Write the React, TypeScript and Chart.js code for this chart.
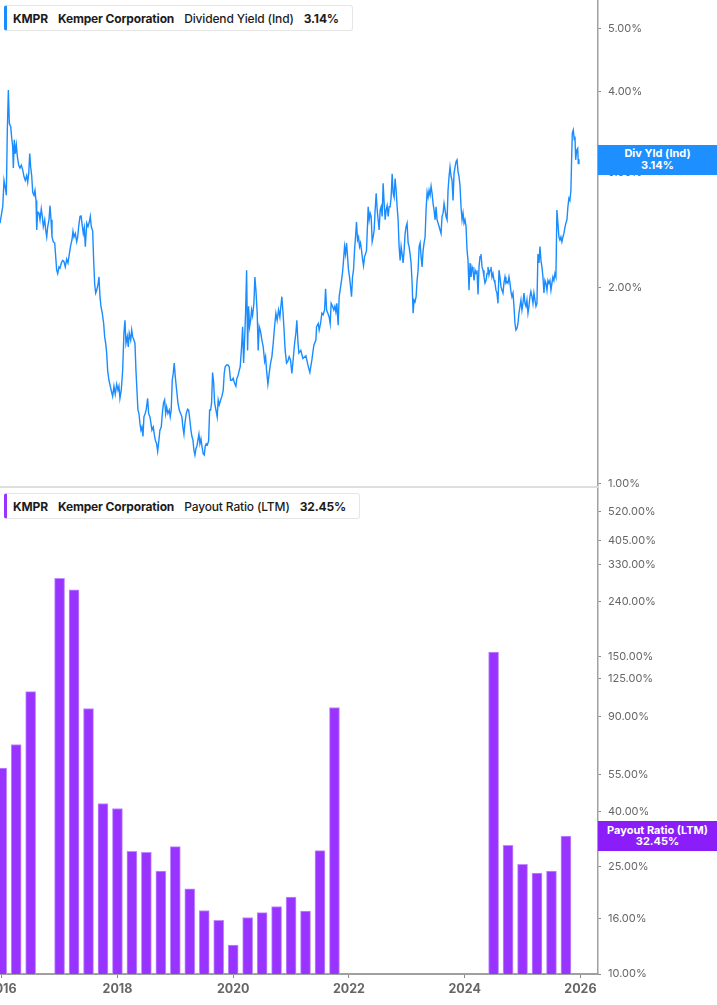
import React, { useEffect, useRef, useState } from "react";
import { Chart, registerables } from "chart.js";

Chart.register(...registerables);

const FONT = "Inter, 'Noto Sans', sans-serif";

// Dividend Yield (Ind), in %, dates as decimal years
const divDates = [
  2015.971, 2016.018, 2016.04, 2016.069, 2016.08, 2016.097, 2016.115, 2016.132, 2016.156, 2016.173,
  2016.19, 2016.201, 2016.218, 2016.235, 2016.253, 2016.27, 2016.294, 2016.316, 2016.339, 2016.363,
  2016.385, 2016.408, 2016.432, 2016.449, 2016.467, 2016.484, 2016.501, 2016.518, 2016.536, 2016.558,
  2016.575, 2016.593, 2016.605, 2016.622, 2016.645, 2016.662, 2016.684, 2016.702, 2016.719, 2016.743,
  2016.76, 2016.778, 2016.795, 2016.817, 2016.835, 2016.852, 2016.869, 2016.892, 2016.916, 2016.933,
  2016.95, 2016.968, 2016.99, 2017.007, 2017.03, 2017.054, 2017.076, 2017.099, 2017.123, 2017.145,
  2017.168, 2017.192, 2017.214, 2017.232, 2017.249, 2017.272, 2017.296, 2017.313, 2017.33, 2017.353,
  2017.37, 2017.387, 2017.41, 2017.427, 2017.445, 2017.469, 2017.491, 2017.514, 2017.531, 2017.548,
  2017.572, 2017.589, 2017.607, 2017.624, 2017.641, 2017.664, 2017.681, 2017.698, 2017.715, 2017.738,
  2017.762, 2017.779, 2017.797, 2017.814, 2017.831, 2017.853, 2017.876, 2017.9, 2017.917, 2017.94,
  2017.962, 2017.987, 2018.009, 2018.026, 2018.043, 2018.066, 2018.09, 2018.112, 2018.13, 2018.147,
  2018.17, 2018.187, 2018.204, 2018.229, 2018.246, 2018.263, 2018.285, 2018.303, 2018.32, 2018.337,
  2018.354, 2018.372, 2018.389, 2018.406, 2018.423, 2018.441, 2018.458, 2018.48, 2018.498, 2018.522,
  2018.539, 2018.562, 2018.579, 2018.596, 2018.619, 2018.636, 2018.653, 2018.677, 2018.695, 2018.717,
  2018.734, 2018.757, 2018.781, 2018.798, 2018.815, 2018.833, 2018.85, 2018.872, 2018.895, 2018.912,
  2018.929, 2018.947, 2018.964, 2018.981, 2018.999, 2019.023, 2019.045, 2019.068, 2019.092, 2019.114,
  2019.131, 2019.149, 2019.166, 2019.189, 2019.213, 2019.23, 2019.252, 2019.27, 2019.287, 2019.304,
  2019.321, 2019.339, 2019.356, 2019.373, 2019.391, 2019.408, 2019.425, 2019.443, 2019.46, 2019.482,
  2019.5, 2019.517, 2019.534, 2019.551, 2019.575, 2019.593, 2019.61, 2019.627, 2019.644, 2019.662,
  2019.679, 2019.702, 2019.724, 2019.741, 2019.759, 2019.783, 2019.805, 2019.828, 2019.845, 2019.862,
  2019.886, 2019.909, 2019.931, 2019.955, 2019.978, 2020.0, 2020.024, 2020.047, 2020.064, 2020.081,
  2020.104, 2020.121, 2020.145, 2020.163, 2020.18, 2020.197, 2020.214, 2020.232, 2020.249, 2020.266,
  2020.283, 2020.301, 2020.318, 2020.335, 2020.358, 2020.375, 2020.393, 2020.415, 2020.432, 2020.45,
  2020.474, 2020.496, 2020.519, 2020.543, 2020.56, 2020.577, 2020.6, 2020.622, 2020.646, 2020.669,
  2020.691, 2020.715, 2020.738, 2020.76, 2020.784, 2020.807, 2020.824, 2020.841, 2020.858, 2020.876,
  2020.898, 2020.922, 2020.945, 2020.967, 2020.991, 2021.014, 2021.036, 2021.061, 2021.083, 2021.1,
  2021.117, 2021.135, 2021.169, 2021.204, 2021.256, 2021.291, 2021.325, 2021.36, 2021.394, 2021.429,
  2021.441, 2021.47, 2021.486, 2021.51, 2021.532, 2021.555, 2021.579, 2021.597, 2021.614, 2021.636,
  2021.659, 2021.676, 2021.693, 2021.717, 2021.739, 2021.757, 2021.774, 2021.791, 2021.814, 2021.831,
  2021.848, 2021.872, 2021.89, 2021.907, 2021.924, 2021.941, 2021.959, 2021.976, 2021.993, 2022.01,
  2022.028, 2022.045, 2022.062, 2022.079, 2022.097, 2022.114, 2022.131, 2022.149, 2022.166, 2022.183,
  2022.2, 2022.218, 2022.235, 2022.252, 2022.27, 2022.287, 2022.304, 2022.315, 2022.333, 2022.35,
  2022.367, 2022.384, 2022.402, 2022.419, 2022.436, 2022.453, 2022.471, 2022.488, 2022.505, 2022.522,
  2022.54, 2022.557, 2022.574, 2022.591, 2022.609, 2022.626, 2022.643, 2022.66, 2022.678, 2022.695,
  2022.712, 2022.729, 2022.747, 2022.764, 2022.781, 2022.798, 2022.816, 2022.833, 2022.85, 2022.867,
  2022.885, 2022.902, 2022.919, 2022.936, 2022.954, 2022.971, 2022.988, 2023.005, 2023.023, 2023.04,
  2023.057, 2023.074, 2023.092, 2023.109, 2023.126, 2023.143, 2023.161, 2023.178, 2023.195, 2023.213,
  2023.23, 2023.247, 2023.264, 2023.282, 2023.299, 2023.316, 2023.333, 2023.351, 2023.368, 2023.385,
  2023.402, 2023.42, 2023.437, 2023.454, 2023.471, 2023.489, 2023.506, 2023.523, 2023.54, 2023.558,
  2023.575, 2023.592, 2023.609, 2023.627, 2023.644, 2023.661, 2023.678, 2023.696, 2023.713, 2023.73,
  2023.747, 2023.765, 2023.782, 2023.799, 2023.816, 2023.834, 2023.851, 2023.868, 2023.886, 2023.903,
  2023.92, 2023.937, 2023.955, 2023.972, 2023.989, 2024.006, 2024.024, 2024.041, 2024.058, 2024.075,
  2024.093, 2024.11, 2024.127, 2024.144, 2024.162, 2024.179, 2024.196, 2024.213, 2024.231, 2024.248,
  2024.265, 2024.282, 2024.3, 2024.317, 2024.334, 2024.351, 2024.369, 2024.386, 2024.403, 2024.42,
  2024.438, 2024.455, 2024.472, 2024.489, 2024.507, 2024.524, 2024.541, 2024.558, 2024.576, 2024.593,
  2024.61, 2024.627, 2024.645, 2024.662, 2024.679, 2024.697, 2024.714, 2024.731, 2024.748, 2024.766,
  2024.783, 2024.8, 2024.817, 2024.835, 2024.852, 2024.869, 2024.886, 2024.904, 2024.921, 2024.938,
  2024.956, 2024.973, 2024.99, 2025.007, 2025.025, 2025.042, 2025.059, 2025.076, 2025.094, 2025.111,
  2025.128, 2025.145, 2025.163, 2025.18, 2025.197, 2025.215, 2025.232, 2025.249, 2025.266, 2025.284,
  2025.301, 2025.318, 2025.335, 2025.353, 2025.37, 2025.387, 2025.404, 2025.422, 2025.439, 2025.456,
  2025.473, 2025.491, 2025.508, 2025.525, 2025.542, 2025.56, 2025.577, 2025.594, 2025.611, 2025.629,
  2025.646, 2025.663, 2025.68, 2025.698, 2025.715, 2025.732, 2025.749, 2025.767, 2025.784, 2025.801,
  2025.818, 2025.836, 2025.848, 2025.86, 2025.877, 2025.894, 2025.906, 2025.918, 2025.935, 2025.953,
  2025.964, 2025.975, 2025.987,
];
const divYield = [
  2.51, 2.66, 2.92, 2.82, 2.77, 3.49, 4.02, 3.57, 3.53, 3.39,
  3.29, 3.05, 3.37, 3.21, 3.31, 3.18, 3.08, 3.05, 3.08, 3.03,
  2.96, 2.92, 2.97, 2.9, 2.99, 3.21, 3.06, 2.97, 2.8, 2.77,
  2.82, 2.72, 2.45, 2.61, 2.6, 2.54, 2.64, 2.57, 2.48, 2.54,
  2.45, 2.39, 2.48, 2.54, 2.67, 2.54, 2.39, 2.35, 2.34, 2.23,
  2.125, 2.1, 2.15, 2.14, 2.18, 2.2, 2.19, 2.15, 2.21, 2.18,
  2.25, 2.32, 2.365, 2.44, 2.39, 2.42, 2.35, 2.39, 2.48, 2.57,
  2.58, 2.51, 2.42, 2.47, 2.31, 2.51, 2.48, 2.52, 2.57, 2.48,
  2.44, 2.2, 2.02, 1.96, 1.98, 2.02, 2.075, 1.935, 1.87, 1.825,
  1.76, 1.68, 1.64, 1.585, 1.49, 1.44, 1.41, 1.38, 1.36, 1.41,
  1.37, 1.42, 1.39, 1.41, 1.35, 1.39, 1.49, 1.7, 1.78, 1.64,
  1.68, 1.62, 1.7, 1.66, 1.72, 1.68, 1.66, 1.64, 1.49, 1.39,
  1.296, 1.28, 1.236, 1.207, 1.22, 1.18, 1.265, 1.28, 1.3, 1.35,
  1.28, 1.265, 1.236, 1.207, 1.22, 1.19, 1.166, 1.15, 1.12, 1.166,
  1.207, 1.22, 1.296, 1.33, 1.343, 1.28, 1.31, 1.28, 1.296, 1.265,
  1.296, 1.44, 1.475, 1.53, 1.46, 1.39, 1.33, 1.296, 1.28, 1.265,
  1.22, 1.19, 1.236, 1.28, 1.3, 1.296, 1.25, 1.207, 1.18, 1.166,
  1.125, 1.105, 1.13, 1.14, 1.166, 1.19, 1.15, 1.17, 1.14, 1.11,
  1.105, 1.14, 1.15, 1.145, 1.16, 1.296, 1.296, 1.33, 1.48, 1.43,
  1.33, 1.296, 1.265, 1.343, 1.32, 1.343, 1.36, 1.39, 1.475, 1.51,
  1.52, 1.52, 1.51, 1.44, 1.44, 1.45, 1.425, 1.41, 1.45, 1.46,
  1.49, 1.51, 1.62, 1.74, 1.53, 1.66, 1.825, 2.125, 1.6, 1.87,
  1.74, 1.78, 1.846, 1.81, 1.89, 2.075, 1.98, 1.825, 1.6, 1.74,
  1.71, 1.66, 1.62, 1.54, 1.565, 1.49, 1.42, 1.475, 1.53, 1.565,
  1.64, 1.74, 1.825, 1.78, 1.846, 1.8, 1.87, 1.935, 1.846, 1.74,
  1.6, 1.53, 1.54, 1.565, 1.547, 1.475, 1.547, 1.64, 1.7, 1.78,
  1.66, 1.585, 1.6, 1.555, 1.57, 1.52, 1.48, 1.547, 1.63, 1.66,
  1.74, 1.76, 1.72, 1.76, 1.825, 1.815, 1.846, 1.99, 1.846, 1.825,
  1.8, 1.76, 1.89, 1.87, 1.846, 1.87, 1.835, 1.89, 1.75, 1.935,
  1.98, 2.05, 2.11, 2.2, 2.31, 2.25, 2.34, 2.23, 2.125, 2.075,
  2.005, 1.935, 2.075, 2.125, 2.28, 2.39, 2.52, 2.365, 2.39, 2.31,
  2.34, 2.28, 2.21, 2.16, 2.23, 2.25, 2.28, 2.42, 2.66, 2.54,
  2.6, 2.57, 2.35, 2.39, 2.45, 2.63, 2.79, 2.63, 2.54, 2.45,
  2.63, 2.66, 2.57, 2.89, 2.69, 2.54, 2.63, 2.67, 2.57, 2.66,
  2.66, 2.75, 2.99, 2.79, 2.75, 2.94, 2.82, 2.66, 2.54, 2.31,
  2.2, 2.31, 2.25, 2.18, 2.28, 2.42, 2.48, 2.51, 2.34, 2.31,
  2.25, 2.18, 2.03, 1.825, 1.912, 1.9, 1.935, 2.05, 2.125, 2.31,
  2.34, 2.23, 2.15, 2.28, 2.34, 2.39, 2.63, 2.8, 2.75, 2.82,
  2.77, 2.86, 2.79, 2.69, 2.63, 2.54, 2.66, 2.54, 2.51, 2.48,
  2.45, 2.42, 2.57, 2.6, 2.69, 2.63, 2.57, 2.54, 2.82, 2.96,
  3.06, 2.96, 2.92, 2.72, 2.99, 3.06, 3.12, 3.14, 3.01, 2.96,
  2.86, 2.66, 2.54, 2.6, 2.51, 2.54, 2.48, 2.28, 2.2, 1.98,
  2.18, 2.075, 2.15, 2.125, 2.05, 2.125, 2.1, 2.125, 1.95, 2.15,
  2.23, 2.25, 2.15, 2.125, 2.075, 2.03, 2.05, 2.1, 2.15, 2.09,
  2.125, 2.15, 2.075, 2.1, 2.05, 2.03, 1.98, 1.96, 1.89, 2.125,
  2.075, 2.005, 1.98, 1.96, 2.03, 2.075, 2.03, 2.04, 2.03, 2.075,
  2.03, 1.97, 1.935, 1.96, 1.87, 1.76, 1.72, 1.73, 1.76, 1.825,
  1.87, 1.912, 1.846, 1.89, 1.96, 1.89, 1.87, 1.912, 1.825, 1.87,
  1.935, 1.97, 1.935, 1.89, 1.96, 1.912, 1.87, 1.89, 2.25, 2.18,
  2.31, 2.2, 2.15, 2.075, 1.96, 2.05, 2.03, 1.98, 2.05, 2.03,
  2.05, 1.98, 2.03, 2.075, 2.05, 2.1, 2.075, 2.63, 2.51, 2.39,
  2.365, 2.39, 2.35, 2.39, 2.42, 2.47, 2.51, 2.54, 2.66, 2.74,
  2.72, 2.82, 3.14, 3.45, 3.49, 3.37, 3.41, 3.14, 3.25, 3.27,
  3.1, 3.14, 3.14,
];

// Payout Ratio (LTM), in %, one bar per quarter; null = no value
const payoutDates = [
  2016.0, 2016.25, 2016.5, 2016.75, 2017.0, 2017.25, 2017.5, 2017.75,
  2018.0, 2018.25, 2018.5, 2018.75, 2019.0, 2019.25, 2019.5, 2019.75,
  2020.0, 2020.25, 2020.5, 2020.75, 2021.0, 2021.25, 2021.5, 2021.75,
  2022.0, 2022.25, 2022.5, 2022.75, 2023.0, 2023.25, 2023.5, 2023.75,
  2024.0, 2024.25, 2024.5, 2024.75, 2025.0, 2025.25, 2025.5, 2025.75,
];
const payoutRatio = [
  58.0, 71.0, 111.6, null, 293.8, 266.1, 96.6, 42.9,
  41.1, 28.5, 28.3, 24.1, 29.7, 20.7, 17.2, 15.8,
  12.8, 16.2, 16.9, 17.8, 19.3, 17.1, 28.7, 97.4,
  null, null, null, null, null, null, null, null,
  null, null, 156.2, 30.0, 25.5, 23.7, 24.1, 32.45,
];

const yieldTicks = [1, 2, 3, 4, 5];
const payoutTicks = [10, 16, 25, 40, 55, 90, 125, 150, 240, 330, 405, 520];
const yearTicks = [2016, 2018, 2020, 2022, 2024, 2026];

const X_MIN = 2015.9706;
const X_MAX = 2026.304;
const AXIS_W = 119;

const lastYield = divYield[divYield.length - 1];
const lastPayout = payoutRatio[payoutRatio.length - 1] as number;

function pct(v: number) {
  return v.toFixed(2) + "%";
}

function rightAxis(min: number, max: number, ticks: number[]): any {
  return {
    type: "logarithmic",
    position: "right",
    min,
    max,
    afterBuildTicks: (s: any) => {
      s.ticks = ticks.map((v) => ({ value: v }));
    },
    afterFit: (s: any) => {
      s.width = AXIS_W;
      s.paddingTop = 0;
      s.paddingBottom = 0;
    },
    grid: { drawOnChartArea: false, drawTicks: true, tickLength: 3, color: "#8a8a8a" },
    border: { display: true, color: "#a0a0a0", width: 1.5 },
    ticks: {
      color: "#666",
      padding: 7,
      autoSkip: false,
      font: { family: FONT, size: 11 },
      callback: (v: any) => pct(Number(v)),
    },
  };
}

function SeriesLegend({ top, color, metric, value }: { top: number; color: string; metric: string; value: string }) {
  return (
    <div
      style={{
        position: "absolute",
        left: 4,
        top,
        height: 26,
        boxSizing: "border-box",
        display: "flex",
        alignItems: "center",
        background: "#fff",
        border: "1px solid #e6e6e6",
        borderLeft: `3px solid ${color}`,
        borderRadius: 3,
        padding: "0 13px 0 6px",
        fontFamily: FONT,
        fontSize: 12,
        letterSpacing: "-0.15px",
        color: "#1c1c1c",
        whiteSpace: "nowrap",
      }}
    >
      <span style={{ fontWeight: 700 }}>KMPR</span>
      <span style={{ fontWeight: 700, marginLeft: 10 }}>Kemper Corporation</span>
      <span style={{ fontWeight: 500, marginLeft: 10 }}>{metric}</span>
      <span style={{ fontWeight: 700, marginLeft: 10 }}>{value}</span>
    </div>
  );
}

function AxisTag({ top, color, title, value }: { top: number; color: string; title: string; value: string }) {
  return (
    <div
      style={{
        position: "absolute",
        left: 598,
        top: top - 15,
        width: AXIS_W,
        height: 30,
        background: color,
        color: "#fff",
        fontFamily: FONT,
        fontSize: 11,
        fontWeight: 700,
        lineHeight: "11.5px",
        textAlign: "center",
        display: "flex",
        flexDirection: "column",
        justifyContent: "center",
      }}
    >
      <div>{title}</div>
      <div>{value}</div>
    </div>
  );
}

function YieldPanel() {
  const canvasRef = useRef<HTMLCanvasElement>(null);
  const [tagY, setTagY] = useState<number | null>(null);

  useEffect(() => {
    if (!canvasRef.current) return;
    const points = divDates.map((d, i) => ({ x: d, y: divYield[i] }));
    const chart = new Chart(canvasRef.current, {
      type: "line",
      data: {
        datasets: [
          {
            data: points,
            borderColor: "#1a8cff",
            borderWidth: 1.4,
            pointRadius: 0,
            tension: 0,
          },
        ],
      },
      options: {
        animation: false,
        responsive: true,
        maintainAspectRatio: false,
        events: [],
        layout: { padding: { left: 0, right: 0, top: 0, bottom: 13 } },
        plugins: { legend: { display: false }, tooltip: { enabled: false } },
        scales: {
          x: { type: "linear", min: X_MIN, max: X_MAX, display: false },
          y: rightAxis(0.987, 5.527, yieldTicks),
        },
      } as any,
    });
    setTagY(chart.scales.y.getPixelForValue(lastYield));
    return () => chart.destroy();
  }, []);

  return (
    <>
      <div style={{ position: "absolute", left: 0, top: 0, width: 717, height: 500 }}>
        <canvas ref={canvasRef} />
      </div>
      <div style={{ position: "absolute", left: 0, top: 486, width: 598, height: 2, background: "#dedede" }} />
      <SeriesLegend top={5} color="#1a8cff" metric="Dividend Yield (Ind)" value={pct(lastYield)} />
      {tagY !== null && <AxisTag top={tagY} color="#1e8fff" title="Div Yld (Ind)" value={pct(lastYield)} />}
    </>
  );
}

function PayoutPanel() {
  const canvasRef = useRef<HTMLCanvasElement>(null);
  const [tagY, setTagY] = useState<number | null>(null);
  const TOP = 488;

  useEffect(() => {
    if (!canvasRef.current) return;
    const bars = payoutDates.map((d, i) => ({ x: d, y: payoutRatio[i] }));
    const chart = new Chart(canvasRef.current, {
      type: "bar",
      data: {
        datasets: [
          {
            data: bars,
            backgroundColor: "#9933ff",
            borderColor: "#c08cff",
            borderWidth: 1,
            barThickness: 10,
          },
        ],
      },
      options: {
        animation: false,
        responsive: true,
        maintainAspectRatio: false,
        events: [],
        layout: { padding: 0 },
        plugins: { legend: { display: false }, tooltip: { enabled: false } },
        scales: {
          x: {
            type: "linear",
            min: X_MIN,
            max: X_MAX,
            offset: false,
            afterBuildTicks: (s: any) => {
              s.ticks = yearTicks.map((v) => ({ value: v }));
            },
            afterFit: (s: any) => {
              s.height = 31;
              s.paddingLeft = 0;
              s.paddingRight = 0;
            },
            grid: { drawOnChartArea: false, drawTicks: true, tickLength: 4, color: "#8a8a8a", offset: false },
            border: { display: true, color: "#a0a0a0", width: 2 },
            ticks: {
              color: "#666",
              padding: 4,
              autoSkip: false,
              maxRotation: 0,
              font: { family: FONT, size: 12.5, weight: "bold" },
              callback: (v: any) => String(v),
            },
          },
          y: rightAxis(10, 635, payoutTicks),
        },
      } as any,
    });
    setTagY(chart.scales.y.getPixelForValue(lastPayout));
    return () => chart.destroy();
  }, []);

  return (
    <>
      <div style={{ position: "absolute", left: 0, top: TOP, width: 717, height: 1005 - TOP }}>
        <canvas ref={canvasRef} />
      </div>
      <SeriesLegend top={493} color="#9933ff" metric="Payout Ratio (LTM)" value={pct(lastPayout)} />
      {tagY !== null && <AxisTag top={TOP + tagY} color="#8b1ef8" title="Payout Ratio (LTM)" value={pct(lastPayout)} />}
    </>
  );
}

export default function App() {
  return (
    <div
      style={{
        position: "absolute",
        left: 0,
        top: 0,
        width: 717,
        height: 1005,
        background: "#fff",
        overflow: "hidden",
      }}
    >
      <YieldPanel />
      <PayoutPanel />
    </div>
  );
}
